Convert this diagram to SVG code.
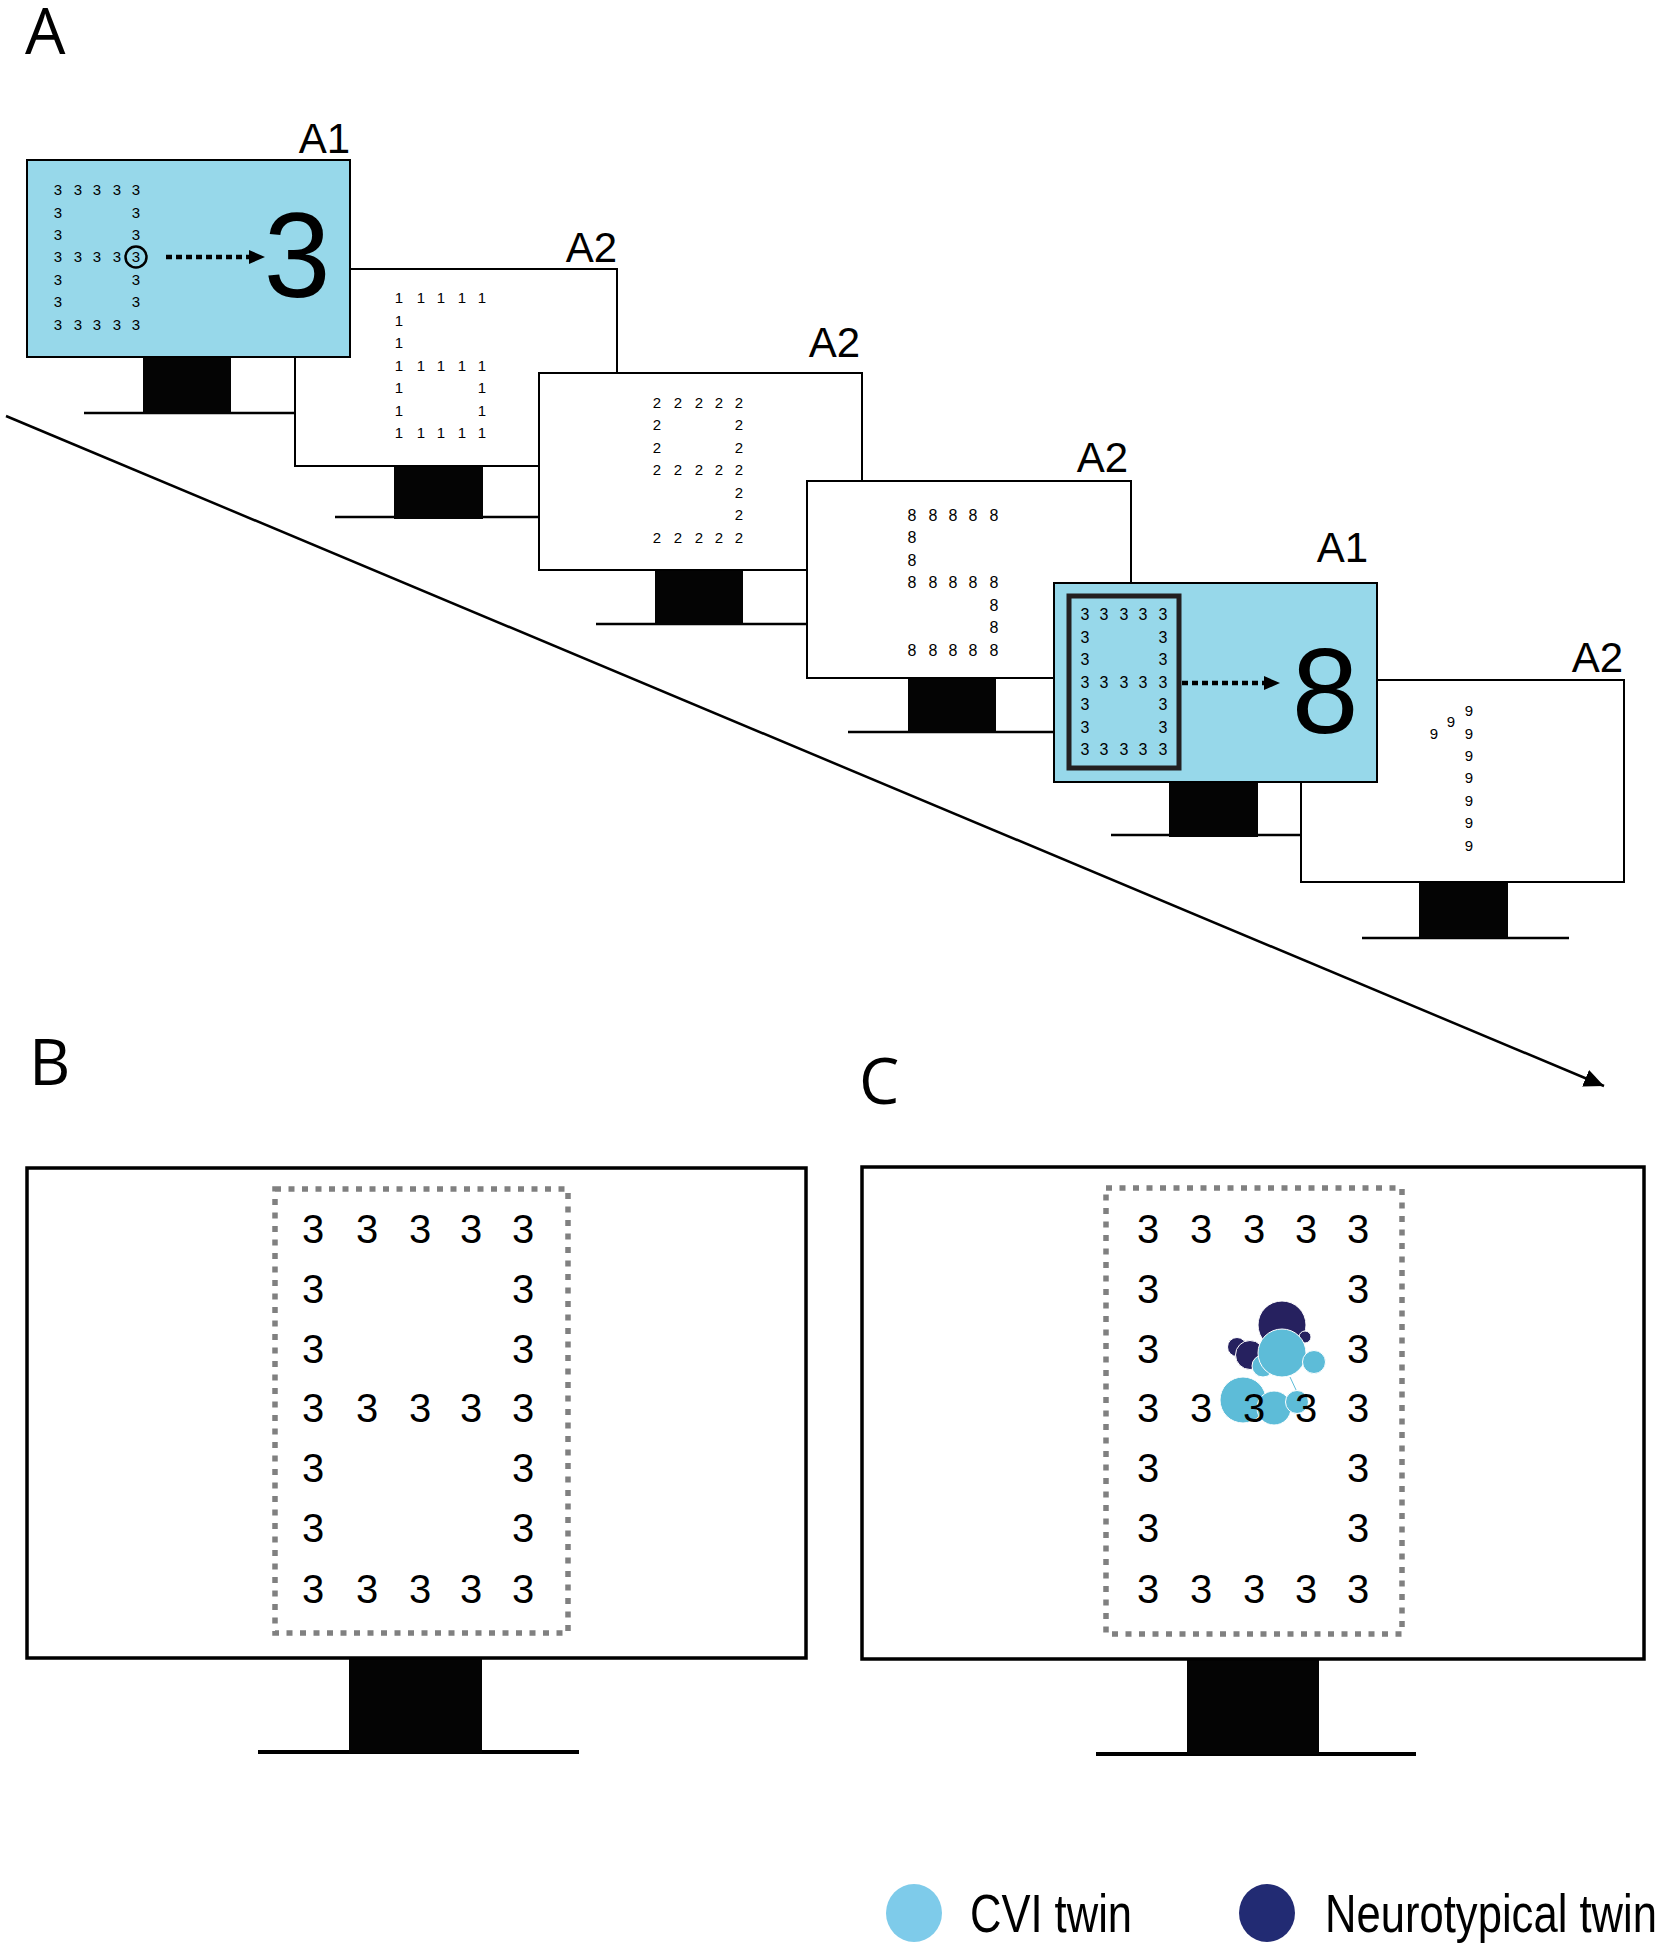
<svg xmlns="http://www.w3.org/2000/svg" width="1665" height="1948" viewBox="0 0 1665 1948">
<style>
.scr{fill:#fff;stroke:#000;stroke-width:2}
.blue{fill:#97d8ea;stroke:#000;stroke-width:2}
.stand{fill:#040404}
.base{stroke:#000;stroke-width:2.5}
.big{fill:#fff;stroke:#000;stroke-width:3.5}
.bbase{stroke:#000;stroke-width:4}
.lbl{font-family:"Liberation Sans",Arial,sans-serif;font-size:42px;fill:#000;text-anchor:end}
.pl{font-family:"Open Sans","Liberation Sans",sans-serif;font-size:64px;fill:#000}
.d{font-family:"Liberation Sans",Arial,sans-serif;font-size:15px;fill:#000;text-anchor:middle}
.d15{font-family:"Liberation Sans",Arial,sans-serif;font-size:16px;fill:#000;text-anchor:middle}
.dl{font-family:"Liberation Sans",Arial,sans-serif;font-size:40px;fill:#000;text-anchor:middle}
.huge{font-family:"Liberation Sans",Arial,sans-serif;font-size:120px;fill:#000;text-anchor:middle}
.dot{stroke:#000;stroke-width:4.5;stroke-dasharray:6 4;fill:none}
.gdash{fill:none;stroke:#808080;stroke-width:5.5;stroke-dasharray:6 7.5}
.leg{font-family:"Liberation Sans",Arial,sans-serif;font-size:53px;fill:#000}
.cl{fill:#5dbcd8;stroke:#fff;stroke-width:1}
.cd{fill:#26215f;stroke:#fff;stroke-width:1}
</style>
<defs>
<marker id="ah" markerUnits="userSpaceOnUse" markerWidth="22" markerHeight="20" refX="20" refY="9" orient="auto">
<path d="M0,0 L20,9 L0,18 Z" fill="#000"/>
</marker>
</defs>
<rect width="1665" height="1948" fill="#fff"/>

<text class="pl" x="25" y="54">A</text>
<text class="pl" x="29" y="1085">B</text>
<text class="pl" x="859" y="1104">C</text>

<g id="connectors">
<line x1="6" y1="416" x2="1604" y2="1086" stroke="#000" stroke-width="2.5" marker-end="url(#ah)"/>
</g>

<g id="monitor-a2-1">
<line class="base" x1="335" y1="517" x2="539" y2="517"/>
<rect class="stand" x="394" y="464" width="89" height="55"/>
<rect class="scr" x="295" y="269" width="322" height="197"/>
<text class="lbl" x="617" y="262">A2</text>
<text class="d" x="399 421 441 462 482" y="303">11111</text>
<text class="d" x="399" y="326">1</text>
<text class="d" x="399" y="348">1</text>
<text class="d" x="399 421 441 462 482" y="371">11111</text>
<text class="d" x="399 482" y="393">11</text>
<text class="d" x="399 482" y="416">11</text>
<text class="d" x="399 421 441 462 482" y="438">11111</text>
</g>

<g id="monitor-a2-2">
<line class="base" x1="596" y1="624" x2="807" y2="624"/>
<rect class="stand" x="655" y="569" width="88" height="56"/>
<rect class="scr" x="539" y="373" width="323" height="197"/>
<text class="lbl" x="860" y="357">A2</text>
<text class="d" x="657 678 699 719 739" y="408">22222</text>
<text class="d" x="657 739" y="430">22</text>
<text class="d" x="657 739" y="453">22</text>
<text class="d" x="657 678 699 719 739" y="475">22222</text>
<text class="d" x="739" y="498">2</text>
<text class="d" x="739" y="520">2</text>
<text class="d" x="657 678 699 719 739" y="543">22222</text>
</g>

<g id="monitor-a2-3">
<line class="base" x1="848" y1="732" x2="1054" y2="732"/>
<rect class="stand" x="908" y="677" width="88" height="56"/>
<rect class="scr" x="807" y="481" width="324" height="197"/>
<text class="lbl" x="1128" y="472">A2</text>
<text class="d15" x="912 933 953 973 994" y="521">88888</text>
<text class="d15" x="912" y="543">8</text>
<text class="d15" x="912" y="566">8</text>
<text class="d15" x="912 933 953 973 994" y="588">88888</text>
<text class="d15" x="994" y="611">8</text>
<text class="d15" x="994" y="633">8</text>
<text class="d15" x="912 933 953 973 994" y="656">88888</text>
</g>

<g id="monitor-a2-4">
<line class="base" x1="1362" y1="938" x2="1569" y2="938"/>
<rect class="stand" x="1419" y="881" width="89" height="57"/>
<rect class="scr" x="1301" y="680" width="323" height="202"/>
<text class="lbl" x="1623" y="672">A2</text>
<text class="d" x="1469" y="716">9</text>
<text class="d" x="1451" y="727">9</text>
<text class="d" x="1434 1469" y="739">99</text>
<text class="d" x="1469" y="761">9</text>
<text class="d" x="1469" y="783">9</text>
<text class="d" x="1469" y="806">9</text>
<text class="d" x="1469" y="828">9</text>
<text class="d" x="1469" y="851">9</text>
</g>

<g id="monitor-a1-1">
<line class="base" x1="84" y1="413" x2="295" y2="413"/>
<rect class="stand" x="143" y="356" width="88" height="58"/>
<rect class="blue" x="27" y="160" width="323" height="197"/>
<text class="lbl" x="350" y="153">A1</text>
<text class="d" x="58 78 97 117 136" y="195">33333</text>
<text class="d" x="58 136" y="218">33</text>
<text class="d" x="58 136" y="240">33</text>
<text class="d" x="58 78 97 117 136" y="262">33333</text>
<text class="d" x="58 136" y="285">33</text>
<text class="d" x="58 136" y="307">33</text>
<text class="d" x="58 78 97 117 136" y="330">33333</text>
<circle cx="136" cy="257" r="10.5" fill="none" stroke="#000" stroke-width="2.5"/>
<line class="dot" x1="166" y1="257" x2="252" y2="257"/>
<path d="M249,250 L265,257 L249,264 Z" fill="#000"/>
<text class="huge" x="297" y="297">3</text>
</g>

<g id="monitor-a1-2">
<line class="base" x1="1111" y1="835" x2="1301" y2="835"/>
<rect class="stand" x="1169" y="781" width="89" height="56"/>
<rect class="blue" x="1054" y="583" width="323" height="199"/>
<text class="lbl" x="1368" y="562">A1</text>
<rect x="1069" y="596" width="110" height="172" fill="none" stroke="#231f20" stroke-width="5"/>
<text class="d15" x="1085 1104 1124 1143 1163" y="620">33333</text>
<text class="d15" x="1085 1163" y="643">33</text>
<text class="d15" x="1085 1163" y="665">33</text>
<text class="d15" x="1085 1104 1124 1143 1163" y="688">33333</text>
<text class="d15" x="1085 1163" y="710">33</text>
<text class="d15" x="1085 1163" y="733">33</text>
<text class="d15" x="1085 1104 1124 1143 1163" y="755">33333</text>
<line class="dot" x1="1182" y1="683" x2="1266" y2="683"/>
<path d="M1264,676 L1280,683 L1264,690 Z" fill="#000"/>
<text class="huge" x="1325" y="733">8</text>
</g>

<g id="monitor-b">
<line class="bbase" x1="258" y1="1752" x2="579" y2="1752"/>
<rect class="stand" x="349" y="1657" width="133" height="96"/>
<rect class="big" x="27" y="1168" width="779" height="490"/>
<rect class="gdash" x="275" y="1189" width="293" height="444"/>
<text class="dl" x="313 367 420 471 523" y="1243">33333</text>
<text class="dl" x="313 523" y="1303">33</text>
<text class="dl" x="313 523" y="1363">33</text>
<text class="dl" x="313 367 420 471 523" y="1422">33333</text>
<text class="dl" x="313 523" y="1482">33</text>
<text class="dl" x="313 523" y="1542">33</text>
<text class="dl" x="313 367 420 471 523" y="1603">33333</text>
</g>

<g id="monitor-c">
<line class="bbase" x1="1096" y1="1754" x2="1416" y2="1754"/>
<rect class="stand" x="1187" y="1657" width="132" height="97"/>
<rect class="big" x="862" y="1167" width="782" height="492"/>
<rect class="gdash" x="1106" y="1188" width="296" height="446"/>
<g id="fixations">
<circle class="cd" cx="1282" cy="1325" r="24"/>
<circle class="cd" cx="1305" cy="1337" r="6"/>
<circle class="cd" cx="1237" cy="1347" r="9.5"/>
<circle class="cd" cx="1250" cy="1355" r="14.5"/>
<circle class="cl" cx="1263" cy="1366" r="11"/>
<circle class="cl" cx="1282" cy="1353" r="24"/>
<circle class="cl" cx="1314" cy="1362" r="11.5"/>
<line x1="1290" y1="1377" x2="1297" y2="1392" stroke="#5dbcd8" stroke-width="1"/>
<circle class="cl" cx="1243" cy="1400" r="23"/>
<circle class="cl" cx="1274" cy="1408" r="17"/>
<circle class="cl" cx="1297" cy="1402" r="11.5"/>
</g>
<text class="dl" x="1148 1201 1254 1306 1358" y="1243">33333</text>
<text class="dl" x="1148 1358" y="1303">33</text>
<text class="dl" x="1148 1358" y="1363">33</text>
<text class="dl" x="1148 1201 1254 1306 1358" y="1422">33333</text>
<text class="dl" x="1148 1358" y="1482">33</text>
<text class="dl" x="1148 1358" y="1542">33</text>
<text class="dl" x="1148 1201 1254 1306 1358" y="1603">33333</text>
</g>

<g id="legend">
<ellipse cx="914" cy="1913" rx="28" ry="29" fill="#7ecbea"/>
<text class="leg" x="970" y="1932" textLength="162" lengthAdjust="spacingAndGlyphs">CVI twin</text>
<ellipse cx="1267" cy="1913" rx="28" ry="29" fill="#222b73"/>
<text class="leg" x="1325" y="1932" textLength="332" lengthAdjust="spacingAndGlyphs">Neurotypical twin</text>
</g>
</svg>
